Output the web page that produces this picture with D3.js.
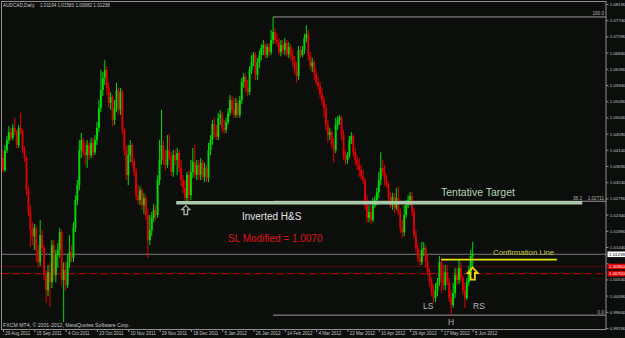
<!DOCTYPE html>
<html>
<head>
<meta charset="utf-8">
<script src="https://cdn.jsdelivr.net/npm/d3@7"></script>
<style>
    html, body { margin: 0; padding: 0; background: #0c0e0c; }
    svg { display: block; }
</style>
</head>
<body>
<svg id="chart" width="625" height="338"></svg>
<script>
const CONSTANTS = {
    WIDTH: 625,
    HEIGHT: 338,
    BG: "#0c0e0c",
    FRAME: "#8e8e8e",
    LABEL: "#c4c4c4",
    BULL: "#00dc00",
    BEAR: "#e00000",
    FONT: "'Liberation Sans', Arial, sans-serif",
}

// AUDCAD daily bars, 29 Aug 2011 .. 5 Jun 2012
const opens = [
    1.0391, 1.0358, 1.0413, 1.0441, 1.0463, 1.0447, 1.0475, 1.0463, 1.0427, 1.0475,
    1.0466, 1.0413, 1.0391, 1.0302, 1.0241, 1.0191, 1.0174, 1.0197, 1.0136, 1.0102,
    1.0177, 1.0141, 1.0066, 1.0024, 1.0074, 1.0046, 1.0149, 1.0066, 1.0122, 1.0136,
    1.0185, 1.0052, 1.0080, 1.0038, 1.0102, 1.0130, 1.0114, 1.0197, 1.0274, 1.0316,
    1.0413, 1.0441, 1.0407, 1.0399, 1.0427, 1.0399, 1.0433, 1.0407, 1.0441, 1.0475,
    1.0530, 1.0580, 1.0614, 1.0636, 1.0586, 1.0544, 1.0561, 1.0497, 1.0530, 1.0580,
    1.0525, 1.0574, 1.0469, 1.0413, 1.0344, 1.0399, 1.0427, 1.0380, 1.0352, 1.0288,
    1.0274, 1.0302, 1.0260, 1.0280, 1.0233, 1.0163, 1.0191, 1.0225, 1.0247, 1.0233,
    1.0330, 1.0386, 1.0427, 1.0386, 1.0372, 1.0413, 1.0391, 1.0352, 1.0399, 1.0386,
    1.0405, 1.0364, 1.0330, 1.0308, 1.0280, 1.0344, 1.0288, 1.0352, 1.0380, 1.0344,
    1.0372, 1.0344, 1.0378, 1.0339, 1.0364, 1.0336, 1.0413, 1.0441, 1.0486, 1.0463,
    1.0450, 1.0503, 1.0511, 1.0475, 1.0469, 1.0491, 1.0517, 1.0552, 1.0525, 1.0511,
    1.0544, 1.0511, 1.0552, 1.0602, 1.0617, 1.0586, 1.0574, 1.0636, 1.0657, 1.0677,
    1.0622, 1.0657, 1.0677, 1.0697, 1.0705, 1.0677, 1.0700, 1.0685, 1.0719, 1.0741,
    1.0719, 1.0713, 1.0685, 1.0705, 1.0691, 1.0711, 1.0680, 1.0700, 1.0674, 1.0663,
    1.0636, 1.0619, 1.0691, 1.0677, 1.0691, 1.0725, 1.0736, 1.0677, 1.0646, 1.0657,
    1.0625, 1.0602, 1.0591, 1.0569, 1.0552, 1.0530, 1.0483, 1.0455, 1.0463, 1.0427,
    1.0413, 1.0483, 1.0497, 1.0503, 1.0455, 1.0399, 1.0386, 1.0399, 1.0441, 1.0452,
    1.0407, 1.0386, 1.0372, 1.0358, 1.0341, 1.0330, 1.0260, 1.0225, 1.0241, 1.0219,
    1.0260, 1.0274, 1.0296, 1.0330, 1.0364, 1.0352, 1.0330, 1.0316, 1.0280, 1.0260,
    1.0283, 1.0252, 1.0280, 1.0241, 1.0197, 1.0185, 1.0233, 1.0260, 1.0274, 1.0285,
    1.0241, 1.0177, 1.0141, 1.0114, 1.0102, 1.0136, 1.0141, 1.0102, 1.0074, 1.0046,
    1.0019, 1.0002, 1.0024, 1.0046, 1.0102, 1.0058, 1.0038, 1.0074, 1.0046, 1.0002,
    0.9983, 1.0016, 1.0066, 1.0052, 1.0086, 1.0058, 1.0024, 1.0002, 1.0046, 1.0074,
    1.01194
]
const highs = [
    1.0413, 1.0427, 1.0452, 1.0480, 1.0475, 1.0486, 1.0503, 1.0469, 1.0483, 1.0517,
    1.0472, 1.0424, 1.0396, 1.0313, 1.0260, 1.0213, 1.0208, 1.0202, 1.0149, 1.0219,
    1.0191, 1.0149, 1.0080, 1.0094, 1.0102, 1.0163, 1.0163, 1.0136, 1.0155, 1.0197,
    1.0191, 1.0102, 1.0102, 1.0122, 1.0177, 1.0149, 1.0213, 1.0288, 1.0330, 1.0441,
    1.0461, 1.0447, 1.0435, 1.0441, 1.0435, 1.0447, 1.0447, 1.0455, 1.0491, 1.0552,
    1.0636, 1.0630, 1.0663, 1.0646, 1.0602, 1.0574, 1.0566, 1.0552, 1.0600, 1.0586,
    1.0586, 1.0580, 1.0475, 1.0427, 1.0427, 1.0441, 1.0433, 1.0391, 1.0364, 1.0316,
    1.0313, 1.0308, 1.0294, 1.0288, 1.0247, 1.0233, 1.0241, 1.0263, 1.0260, 1.0344,
    1.0441, 1.0525, 1.0441, 1.0413, 1.0455, 1.0458, 1.0407, 1.0413, 1.0413, 1.0419,
    1.0413, 1.0386, 1.0344, 1.0330, 1.0352, 1.0358, 1.0386, 1.0419, 1.0427, 1.0386,
    1.0386, 1.0391, 1.0386, 1.0378, 1.0372, 1.0433, 1.0455, 1.0497, 1.0503, 1.0483,
    1.0517, 1.0525, 1.0519, 1.0497, 1.0503, 1.0530, 1.0566, 1.0563, 1.0558, 1.0558,
    1.0552, 1.0563, 1.0614, 1.0628, 1.0625, 1.0608, 1.0646, 1.0677, 1.0685, 1.0685,
    1.0669, 1.0691, 1.0708, 1.0719, 1.0713, 1.0708, 1.0711, 1.0747, 1.0783, 1.0752,
    1.0738, 1.0724, 1.0719, 1.0719, 1.0724, 1.0719, 1.0713, 1.0708, 1.0691, 1.0674,
    1.0657, 1.0702, 1.0702, 1.0702, 1.0736, 1.0760, 1.0747, 1.0685, 1.0669, 1.0663,
    1.0636, 1.0617, 1.0602, 1.0586, 1.0563, 1.0541, 1.0497, 1.0475, 1.0469, 1.0447,
    1.0503, 1.0508, 1.0511, 1.0508, 1.0469, 1.0413, 1.0407, 1.0452, 1.0463, 1.0458,
    1.0419, 1.0399, 1.0391, 1.0372, 1.0358, 1.0336, 1.0288, 1.0260, 1.0260, 1.0280,
    1.0285, 1.0308, 1.0352, 1.0407, 1.0386, 1.0372, 1.0344, 1.0324, 1.0296, 1.0294,
    1.0294, 1.0308, 1.0313, 1.0252, 1.0219, 1.0260, 1.0274, 1.0288, 1.0296, 1.0296,
    1.0252, 1.0191, 1.0155, 1.0136, 1.0158, 1.0158, 1.0149, 1.0122, 1.0086, 1.0058,
    1.0041, 1.0044, 1.0058, 1.0119, 1.0114, 1.0094, 1.0094, 1.0094, 1.0058, 1.0024,
    1.0044, 1.0086, 1.0086, 1.0108, 1.0102, 1.0066, 1.0044, 1.0058, 1.0091, 1.0136,
    1.01583
]
const lows = [
    1.0352, 1.0352, 1.0405, 1.0430, 1.0438, 1.0441, 1.0455, 1.0419, 1.0419, 1.0458,
    1.0405, 1.0380, 1.0288, 1.0230, 1.0144, 1.0149, 1.0136, 1.0102, 1.0086, 1.0091,
    1.0130, 1.0052, 0.9989, 1.0007, 0.9978, 1.0030, 1.0052, 1.0046, 1.0086, 1.0114,
    1.0038, 0.9935, 1.0024, 1.0030, 1.0086, 1.0102, 1.0102, 1.0185, 1.0260, 1.0302,
    1.0391, 1.0396, 1.0372, 1.0364, 1.0386, 1.0391, 1.0394, 1.0399, 1.0427, 1.0463,
    1.0519, 1.0563, 1.0594, 1.0566, 1.0530, 1.0525, 1.0480, 1.0483, 1.0519, 1.0511,
    1.0511, 1.0458, 1.0399, 1.0330, 1.0316, 1.0380, 1.0369, 1.0341, 1.0274, 1.0263,
    1.0260, 1.0247, 1.0236, 1.0219, 1.0114, 1.0149, 1.0174, 1.0213, 1.0219, 1.0225,
    1.0316, 1.0372, 1.0372, 1.0358, 1.0364, 1.0386, 1.0341, 1.0339, 1.0372, 1.0344,
    1.0352, 1.0313, 1.0294, 1.0266, 1.0263, 1.0266, 1.0274, 1.0336, 1.0336, 1.0330,
    1.0330, 1.0330, 1.0330, 1.0324, 1.0324, 1.0324, 1.0399, 1.0427, 1.0447, 1.0441,
    1.0441, 1.0483, 1.0463, 1.0458, 1.0461, 1.0483, 1.0508, 1.0514, 1.0503, 1.0503,
    1.0503, 1.0503, 1.0541, 1.0586, 1.0574, 1.0563, 1.0566, 1.0625, 1.0646, 1.0608,
    1.0608, 1.0641, 1.0663, 1.0677, 1.0669, 1.0669, 1.0674, 1.0677, 1.0708, 1.0708,
    1.0702, 1.0677, 1.0674, 1.0680, 1.0677, 1.0672, 1.0669, 1.0663, 1.0646, 1.0625,
    1.0600, 1.0608, 1.0669, 1.0672, 1.0680, 1.0713, 1.0663, 1.0636, 1.0630, 1.0608,
    1.0594, 1.0580, 1.0558, 1.0538, 1.0505, 1.0469, 1.0433, 1.0441, 1.0419, 1.0378,
    1.0405, 1.0469, 1.0483, 1.0441, 1.0386, 1.0372, 1.0375, 1.0391, 1.0430, 1.0396,
    1.0372, 1.0358, 1.0339, 1.0330, 1.0319, 1.0247, 1.0211, 1.0213, 1.0208, 1.0213,
    1.0252, 1.0260, 1.0280, 1.0316, 1.0341, 1.0313, 1.0308, 1.0269, 1.0252, 1.0247,
    1.0238, 1.0247, 1.0233, 1.0183, 1.0169, 1.0174, 1.0225, 1.0252, 1.0260, 1.0230,
    1.0169, 1.0130, 1.0102, 1.0091, 1.0094, 1.0119, 1.0086, 1.0063, 1.0033, 1.0007,
    0.9989, 0.9991, 1.0007, 1.0036, 1.0016, 1.0024, 1.0024, 1.0038, 0.9991, 0.99547,
    0.9975, 1.0002, 1.0038, 1.0041, 1.0046, 1.0011, 0.9975, 0.9997, 1.0036, 1.0066,
    1.00882
]
const closes = [
    1.0358, 1.0413, 1.0441, 1.0463, 1.0447, 1.0475, 1.0463, 1.0427, 1.0475, 1.0466,
    1.0413, 1.0391, 1.0302, 1.0241, 1.0191, 1.0174, 1.0197, 1.0136, 1.0102, 1.0177,
    1.0141, 1.0066, 1.0024, 1.0074, 1.0046, 1.0149, 1.0066, 1.0122, 1.0136, 1.0185,
    1.0052, 1.0080, 1.0038, 1.0102, 1.0130, 1.0114, 1.0197, 1.0274, 1.0316, 1.0413,
    1.0441, 1.0407, 1.0399, 1.0427, 1.0399, 1.0433, 1.0407, 1.0441, 1.0475, 1.0530,
    1.0580, 1.0614, 1.0636, 1.0586, 1.0544, 1.0561, 1.0497, 1.0530, 1.0580, 1.0525,
    1.0574, 1.0469, 1.0413, 1.0344, 1.0399, 1.0427, 1.0380, 1.0352, 1.0288, 1.0274,
    1.0302, 1.0260, 1.0280, 1.0233, 1.0163, 1.0191, 1.0225, 1.0247, 1.0233, 1.0330,
    1.0386, 1.0427, 1.0386, 1.0372, 1.0413, 1.0391, 1.0352, 1.0399, 1.0386, 1.0405,
    1.0364, 1.0330, 1.0308, 1.0280, 1.0344, 1.0288, 1.0352, 1.0380, 1.0344, 1.0372,
    1.0344, 1.0378, 1.0339, 1.0364, 1.0336, 1.0413, 1.0441, 1.0486, 1.0463, 1.0450,
    1.0503, 1.0511, 1.0475, 1.0469, 1.0491, 1.0517, 1.0552, 1.0525, 1.0511, 1.0544,
    1.0511, 1.0552, 1.0602, 1.0617, 1.0586, 1.0574, 1.0636, 1.0657, 1.0677, 1.0622,
    1.0657, 1.0677, 1.0697, 1.0705, 1.0677, 1.0700, 1.0685, 1.0719, 1.0741, 1.0719,
    1.0713, 1.0685, 1.0705, 1.0691, 1.0711, 1.0680, 1.0700, 1.0674, 1.0663, 1.0636,
    1.0619, 1.0691, 1.0677, 1.0691, 1.0725, 1.0736, 1.0677, 1.0646, 1.0657, 1.0625,
    1.0602, 1.0591, 1.0569, 1.0552, 1.0530, 1.0483, 1.0455, 1.0463, 1.0427, 1.0413,
    1.0483, 1.0497, 1.0503, 1.0455, 1.0399, 1.0386, 1.0399, 1.0441, 1.0452, 1.0407,
    1.0386, 1.0372, 1.0358, 1.0341, 1.0330, 1.0260, 1.0225, 1.0241, 1.0219, 1.0260,
    1.0274, 1.0296, 1.0330, 1.0364, 1.0352, 1.0330, 1.0316, 1.0280, 1.0260, 1.0283,
    1.0252, 1.0280, 1.0241, 1.0197, 1.0185, 1.0233, 1.0260, 1.0274, 1.0285, 1.0241,
    1.0177, 1.0141, 1.0114, 1.0102, 1.0136, 1.0141, 1.0102, 1.0074, 1.0046, 1.0019,
    1.0002, 1.0024, 1.0046, 1.0102, 1.0058, 1.0038, 1.0074, 1.0046, 1.0002, 0.9983,
    1.0016, 1.0066, 1.0052, 1.0086, 1.0058, 1.0024, 1.0002, 1.0046, 1.0074, 1.0119,
    1.01238
]

// one date label every 16 bars
const dateLabels = ["29 Aug 2011", "15 Sep 2011", "4 Oct 2011", "23 Oct 2011", "10 Nov 2011",
    "29 Nov 2011", "18 Dec 2011", "5 Jan 2012", "26 Jan 2012", "14 Feb 2012", "4 Mar 2012",
    "22 Mar 2012", "10 Apr 2012", "29 Apr 2012", "17 May 2012", "5 Jun 2012"]
const priceTicks = [0.9919, 0.9964, 1.0009, 1.0054, 1.0099, 1.0144, 1.0189, 1.0234, 1.0279,
    1.0324, 1.0369, 1.0414, 1.0459, 1.0504, 1.0549, 1.0594, 1.0639, 1.0684, 1.0729, 1.0774, 1.0819]

// fibo drawn from the Jan high (bar 138) to the May low (bar 229)
const fibLevels = [0, 38.2, 100]
const bidPrice = 1.01238
const entryPrice = 1.0090
const stopPrice = 1.0070
const confirmPrice = 1.0109
const targetPrice = 1.0267

const svg = d3.select("#chart")
const plot = { left: 1.5, top: 1.5, right: 606, bottom: 329.5 }

svg.append("rect")
    .attr("width", CONSTANTS.WIDTH)
    .attr("height", CONSTANTS.HEIGHT)
    .attr("fill", CONSTANTS.BG)

var x = d3.scaleLinear()
    .domain([0, opens.length - 1])
    .range([3, 472.7])
var y = d3.scaleLinear()
    .domain([priceTicks[0], priceTicks[priceTicks.length - 1]])
    .range([328, 4])

svg.append("clipPath").attr("id", "clip")
    .append("rect")
    .attr("x", plot.left).attr("y", plot.top)
    .attr("width", plot.right - plot.left).attr("height", plot.bottom - plot.top)

var area = svg.append("g").attr("clip-path", "url(#clip)")

// horizontal levels: bid, pending entry, stop
area.append("line")
    .attr("x1", plot.left).attr("x2", plot.right)
    .attr("y1", y(bidPrice)).attr("y2", y(bidPrice))
    .attr("stroke", "#7a7a7a").attr("stroke-width", 1)
area.append("line")
    .attr("x1", plot.left).attr("x2", plot.right)
    .attr("y1", y(entryPrice)).attr("y2", y(entryPrice))
    .attr("stroke", "#c00000").attr("stroke-width", 0.8)
    .attr("stroke-dasharray", "1,1")
area.append("line")
    .attr("x1", plot.left).attr("x2", plot.right)
    .attr("y1", y(stopPrice)).attr("y2", y(stopPrice))
    .attr("stroke", "#a80000").attr("stroke-width", 1.4)
    .attr("stroke-dasharray", "7,4")

// fibonacci rays
var fibHigh = highs[138], fibLow = lows[229]
area.append("g")
    .selectAll("line")
    .data(fibLevels)
    .enter()
    .append("line")
        .attr("x1", x(138)).attr("x2", plot.right)
        .attr("y1", d => y(fibLow + (fibHigh - fibLow) * d / 100))
        .attr("y2", d => y(fibLow + (fibHigh - fibLow) * d / 100))
        .attr("stroke", "#a8a8a8")
        .attr("stroke-width", 0.9)

// candles
var bars = opens.map((o, i) => ({ i: i, o: o, h: highs[i], l: lows[i], c: closes[i] }))
var candle = area.append("g")
    .selectAll("g")
    .data(bars)
    .enter()
    .append("g")
candle.append("line")
    .attr("x1", d => x(d.i)).attr("x2", d => x(d.i))
    .attr("y1", d => y(d.h)).attr("y2", d => y(d.l))
    .attr("stroke", d => d.c >= d.o ? CONSTANTS.BULL : CONSTANTS.BEAR)
    .attr("stroke-width", 1)
candle.append("rect")
    .attr("x", d => x(d.i) - 0.95)
    .attr("width", 1.9)
    .attr("y", d => y(Math.max(d.o, d.c)))
    .attr("height", d => Math.max(0.8, Math.abs(y(d.o) - y(d.c))))
    .attr("fill", d => d.c >= d.o ? CONSTANTS.BULL : CONSTANTS.BEAR)

// tentative target + confirmation line
area.append("line")
    .attr("x1", x(88.5)).attr("x2", x(296))
    .attr("y1", y(targetPrice)).attr("y2", y(targetPrice))
    .attr("stroke", "#a9c9a9").attr("stroke-width", 3.4)
area.append("line")
    .attr("x1", x(224)).attr("x2", x(283))
    .attr("y1", y(confirmPrice)).attr("y2", y(confirmPrice))
    .attr("stroke", "#e6e600").attr("stroke-width", 1.8)

// hollow up arrows
function arrowUp(cx, top, w, h) {
    var hw = w / 2, sw = w * 0.22, hb = top + h * 0.45
    return "M" + cx + "," + top + "L" + (cx + hw) + "," + hb + "L" + (cx + sw) + "," + hb +
        "L" + (cx + sw) + "," + (top + h) + "L" + (cx - sw) + "," + (top + h) +
        "L" + (cx - sw) + "," + hb + "L" + (cx - hw) + "," + hb + "Z"
}
area.append("path")
    .attr("d", arrowUp(x(93.4), y(1.0259), 8, 9))
    .attr("fill", "none").attr("stroke", "#a4b8a4").attr("stroke-width", 1.3)
area.append("path")
    .attr("d", arrowUp(x(240), y(lows[240]) + 0.5, 10, 12))
    .attr("fill", "none").attr("stroke", "#f0d800").attr("stroke-width", 1.8)

// chart annotations, anchored to [bar, price] like the terminal objects
const notes = [
    { text: "Tentative Target", bar: 223.8, price: 1.0285, size: 10.5, color: "#b4d4b4" },
    { text: "Inverted H&S", bar: 122.1, price: 1.0218, size: 10, color: "#e4e4e4" },
    { text: "SL Modified = 1.0070", bar: 115, price: 1.0157, size: 10, color: "#e01010" },
    { text: "Confirmation Line", bar: 250.4, price: 1.0121, size: 7.8, color: "#c8c83c" },
    { text: "LS", bar: 214.6, price: 0.9971, size: 8.5, color: "#b4b4b4" },
    { text: "RS", bar: 240.2, price: 0.9971, size: 8.5, color: "#b4b4b4" },
    { text: "H", bar: 227.4, price: 0.9927, size: 8.5, color: "#b4b4b4" },
]
area.append("g")
    .selectAll("text")
    .data(notes)
    .enter()
    .append("text")
        .attr("x", d => x(d.bar))
        .attr("y", d => y(d.price))
        .attr("font-family", CONSTANTS.FONT)
        .attr("font-size", d => d.size)
        .attr("fill", d => d.color)
        .text(d => d.text)

// fibo level captions
var fibText = area.append("g")
    .attr("font-family", CONSTANTS.FONT)
    .attr("font-size", 4.6)
    .attr("fill", "#b0b0b0")
fibText.append("text")
    .attr("x", plot.right - 2).attr("y", y(fibHigh) - 1.5)
    .attr("text-anchor", "end").text("100.0")
fibText.append("text")
    .attr("x", plot.right - 2).attr("y", y(fibLow) - 1.5)
    .attr("text-anchor", "end").text("0.0")
fibText.append("text")
    .attr("x", plot.right - 33).attr("y", y(fibLow + (fibHigh - fibLow) * 0.382) - 1.5)
    .text("38.2")
fibText.append("text")
    .attr("x", plot.right - 2).attr("y", y(fibLow + (fibHigh - fibLow) * 0.382) - 1.5)
    .attr("text-anchor", "end").text(d3.format(".5f")(fibLow + (fibHigh - fibLow) * 0.382))

// frame
svg.append("rect")
    .attr("x", plot.left).attr("y", plot.top)
    .attr("width", plot.right - plot.left).attr("height", plot.bottom - plot.top)
    .attr("fill", "none").attr("stroke", CONSTANTS.FRAME).attr("stroke-width", 1)

// price boxes on the scale (they cover the regular labels)
const boxes = [
    { price: entryPrice, fill: "#e00000", color: "#ffffff" },
    { price: stopPrice, fill: "#e00000", color: "#ffffff" },
    { price: bidPrice, fill: "#ffffff", color: "#000000" },
]

// price scale
var yAxis = svg.append("g")
    .attr("transform", "translate(" + plot.right + ",0)")
    .call(d3.axisRight(y).tickValues(priceTicks).tickSize(2.5).tickPadding(1.2)
        .tickFormat(d3.format(".5f")))
yAxis.select(".domain").remove()
yAxis.selectAll("line").attr("stroke", CONSTANTS.FRAME)
yAxis.selectAll("text")
    .attr("fill", CONSTANTS.LABEL)
    .attr("font-family", CONSTANTS.FONT)
    .attr("font-size", 4.4)
    .attr("display", d => boxes.some(b => Math.abs(y(b.price) - y(d)) < 5) ? "none" : null)

var box = svg.append("g")
    .selectAll("g")
    .data(boxes)
    .enter()
    .append("g")
        .attr("transform", d => "translate(" + (plot.right + 1.5) + "," + y(d.price) + ")")
box.append("rect")
    .attr("x", 0).attr("y", -2.8)
    .attr("width", 17.5).attr("height", 5.6)
    .attr("fill", d => d.fill)
box.append("text")
    .attr("x", 1.5).attr("y", 1.6)
    .attr("font-family", CONSTANTS.FONT)
    .attr("font-size", 4.4)
    .attr("fill", d => d.color)
    .text(d => d3.format(".5f")(d.price))

// time scale
var xAxis = svg.append("g")
    .attr("transform", "translate(0," + plot.bottom + ")")
    .call(d3.axisBottom(x).tickValues(dateLabels.map((d, i) => i * 16)).tickSize(2.5)
        .tickFormat((d, i) => dateLabels[i]))
xAxis.select(".domain").remove()
xAxis.selectAll("line").attr("stroke", CONSTANTS.FRAME)
xAxis.selectAll("text")
    .attr("text-anchor", "start")
    .attr("x", 1.8)
    .attr("y", 2.2)
    .attr("fill", CONSTANTS.LABEL)
    .attr("font-family", CONSTANTS.FONT)
    .attr("font-size", 4.5)

// header and copyright
svg.append("text")
    .attr("x", 3).attr("y", 7.2)
    .attr("font-family", CONSTANTS.FONT).attr("font-size", 4.7)
    .attr("fill", CONSTANTS.LABEL)
    .text("AUDCAD,Daily")
svg.append("text")
    .attr("x", 40).attr("y", 7.2)
    .attr("font-family", CONSTANTS.FONT).attr("font-size", 4.6)
    .attr("fill", CONSTANTS.LABEL)
    .text([opens[240], highs[240], lows[240], closes[240]].map(d3.format(".5f")).join(" "))
svg.append("text")
    .attr("x", 3).attr("y", 327)
    .attr("font-family", CONSTANTS.FONT).attr("font-size", 5.2)
    .attr("fill", CONSTANTS.LABEL)
    .text("FXCM MT4, \u00a9 2001-2012, MetaQuotes Software Corp.")
</script>
</body>
</html>
